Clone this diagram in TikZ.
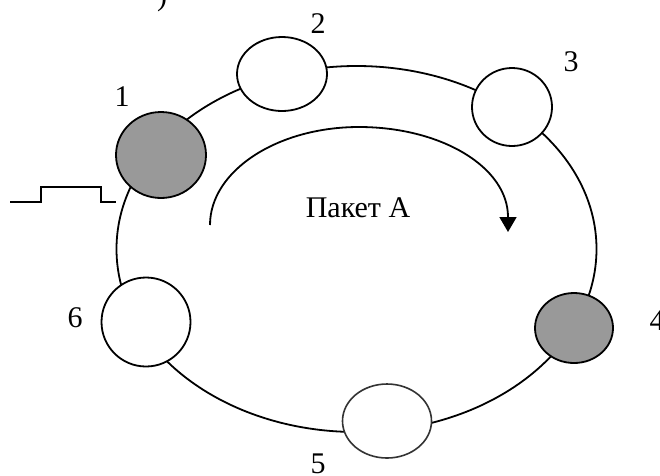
\documentclass[tikz,border=0pt]{standalone}
\usepackage{fontspec}
\setmainfont{Liberation Serif}
\usetikzlibrary{arrows.meta,shapes.geometric}
\definecolor{nodegray}{RGB}{153,153,153}
\begin{document}
\begin{tikzpicture}[x=1pt,y=-1pt,
  ring/.style={line width=1.8pt},
  station/.style={ellipse, draw, line width=1.8pt, fill=white, inner sep=0pt},
  active/.style={station, fill=nodegray},
  lbl/.style={font=\fontsize{30}{35}\selectfont, anchor=base, inner sep=0pt}]
\useasboundingbox (0,0) rectangle (660,475);
% ring
\draw[ring] (356.5,249) ellipse [x radius=240, y radius=183];
% stations
\node[active,  minimum width=90pt, minimum height=86pt] (n1) at (161,155) {};
\node[station, minimum width=90pt, minimum height=74pt] (n2) at (282,74) {};
\node[station, minimum width=80pt, minimum height=78pt] (n3) at (512,107) {};
\node[active,  minimum width=78pt, minimum height=70pt] (n4) at (574,328) {};
\node[station, draw=black!80, line width=1.6pt, minimum width=89pt, minimum height=74pt] (n5) at (387,421) {};
\node[station, minimum width=89pt, minimum height=89pt] (n6) at (146,322) {};
% labels
\node[lbl] (l1) at (122,106) {1};
\node[lbl] (l2) at (318,33) {2};
\node[lbl] (l3) at (571,71) {3};
\node[lbl] (l4) at (657,330) {4};
\node[lbl] (l5) at (318,473) {5};
\node[lbl] (l6) at (75,327) {6};
\node[lbl] (cut) at (162,5) {)};
% pulse
\coordinate (p0) at (10,202);
\coordinate (p1) at (116,202);
\draw[ring] (p0) -- ++(31,0) -- ++(0,-15) -- ++(60,0) -- ++(0,15) -- (p1);
% packet arrow
\coordinate (a0) at (210,225);
\coordinate (a1) at (359,127);
\coordinate (a2) at (508,217);
\coordinate (a3) at (508,232);
\draw[ring, -{Triangle[width=17pt,length=15pt]}]
  (a0) .. controls (210,171) and (277,127) .. (a1)
       .. controls (441,127) and (508,167) .. (a2) -- (a3);
\node[lbl] (txt) at (358,217) {Пакет А};
\end{tikzpicture}
\end{document}
